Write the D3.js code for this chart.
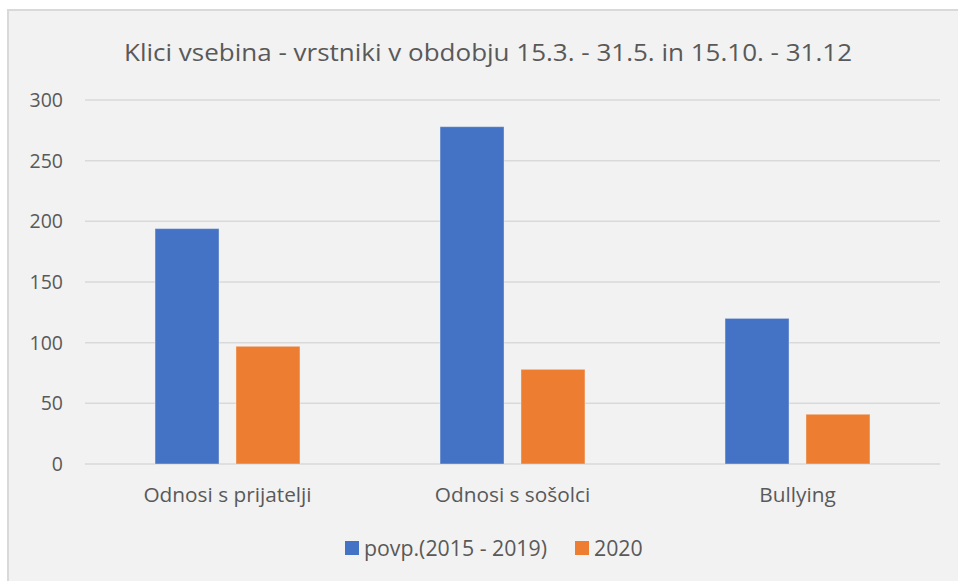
<!DOCTYPE html>
<html>
<head>
<meta charset="utf-8">
<script src="https://cdn.jsdelivr.net/npm/d3@7"></script>
<style>
  body { margin: 0; background: #fff; }
  svg { display: block; }
  text { font-family: "Open Sans", "Noto Sans", sans-serif; fill: #595959; }
</style>
</head>
<body>
<script>
var categories = ["Odnosi s prijatelji", "Odnosi s sošolci", "Bullying"];
var seriesNames = ["povp.(2015 - 2019)", "2020"];
var avgValues = [194, 278, 120];
var y2020Values = [97, 78, 41];
var yTicks = [0, 50, 100, 150, 200, 250, 300];
var colors = ["#4472C4", "#ED7D31"];

var width = 958, height = 581;

var svg = d3.select("body").append("svg")
  .attr("width", width)
  .attr("height", height);

// chart frame
svg.append("rect")
  .attr("x", 8).attr("y", 10)
  .attr("width", width).attr("height", height)
  .attr("fill", "#F2F2F2")
  .attr("stroke", "#D9D9D9")
  .attr("stroke-width", 2);

svg.append("text")
  .attr("x", 488).attr("y", 61)
  .attr("text-anchor", "middle")
  .attr("font-size", 24)
  .attr("textLength", 728)
  .attr("lengthAdjust", "spacingAndGlyphs")
  .text("Klici vsebina - vrstniki v obdobju 15.3. - 31.5. in 15.10. - 31.12");

var plot = {left: 85, right: 940, top: 100, bottom: 464};

var x0 = d3.scaleBand()
  .domain(categories)
  .range([plot.left, plot.right]);

var x1 = d3.scaleBand()
  .domain(seriesNames)
  .range([0, x0.bandwidth()])
  .paddingInner(0.21)
  .paddingOuter(0.865);

var y = d3.scaleLinear()
  .domain([0, 300])
  .range([plot.bottom, plot.top]);

// gridlines
svg.append("g").selectAll("line")
  .data(yTicks)
  .enter().append("line")
  .attr("x1", plot.left).attr("x2", plot.right)
  .attr("y1", function(d) { return y(d); })
  .attr("y2", function(d) { return y(d); })
  .attr("stroke", "#D9D9D9")
  .attr("stroke-width", 1.5);

// y axis labels
svg.append("g").selectAll("text")
  .data(yTicks)
  .enter().append("text")
  .attr("x", 63)
  .attr("y", function(d) { return y(d) + 7; })
  .attr("text-anchor", "end")
  .attr("font-size", 19.5)
  .text(function(d) { return d; });

var rows = categories.map(function(c, i) {
  return {cat: c, vals: [avgValues[i], y2020Values[i]]};
});

var groups = svg.append("g").selectAll("g")
  .data(rows)
  .enter().append("g")
  .attr("transform", function(d) { return "translate(" + x0(d.cat) + ",0)"; });

groups.selectAll("rect")
  .data(function(d) { return d.vals.map(function(v, j) { return {name: seriesNames[j], v: v, j: j}; }); })
  .enter().append("rect")
  .attr("x", function(d) { return x1(d.name); })
  .attr("width", x1.bandwidth())
  .attr("y", function(d) { return y(d.v); })
  .attr("height", function(d) { return plot.bottom - y(d.v); })
  .attr("fill", function(d) { return colors[d.j]; })
  .attr("stroke", "#F2F2F2")
  .attr("stroke-opacity", 0.4)
  .attr("stroke-width", 1);

// category labels
svg.append("g").selectAll("text")
  .data(categories)
  .enter().append("text")
  .attr("x", function(d) { return x0(d) + x0.bandwidth() / 2; })
  .attr("y", 502)
  .attr("text-anchor", "middle")
  .attr("font-size", 20.8)
  .text(function(d) { return d; });

// legend
var legendX = [345, 575];
var legend = svg.append("g").selectAll("g")
  .data(seriesNames)
  .enter().append("g")
  .attr("transform", function(d, i) { return "translate(" + legendX[i] + ",541)"; });

legend.append("rect")
  .attr("width", 14).attr("height", 14)
  .attr("fill", function(d, i) { return colors[i]; });

legend.append("text")
  .attr("x", 19).attr("y", 15)
  .attr("font-size", 21.3)
  .text(function(d) { return d; });
</script>
</body>
</html>
